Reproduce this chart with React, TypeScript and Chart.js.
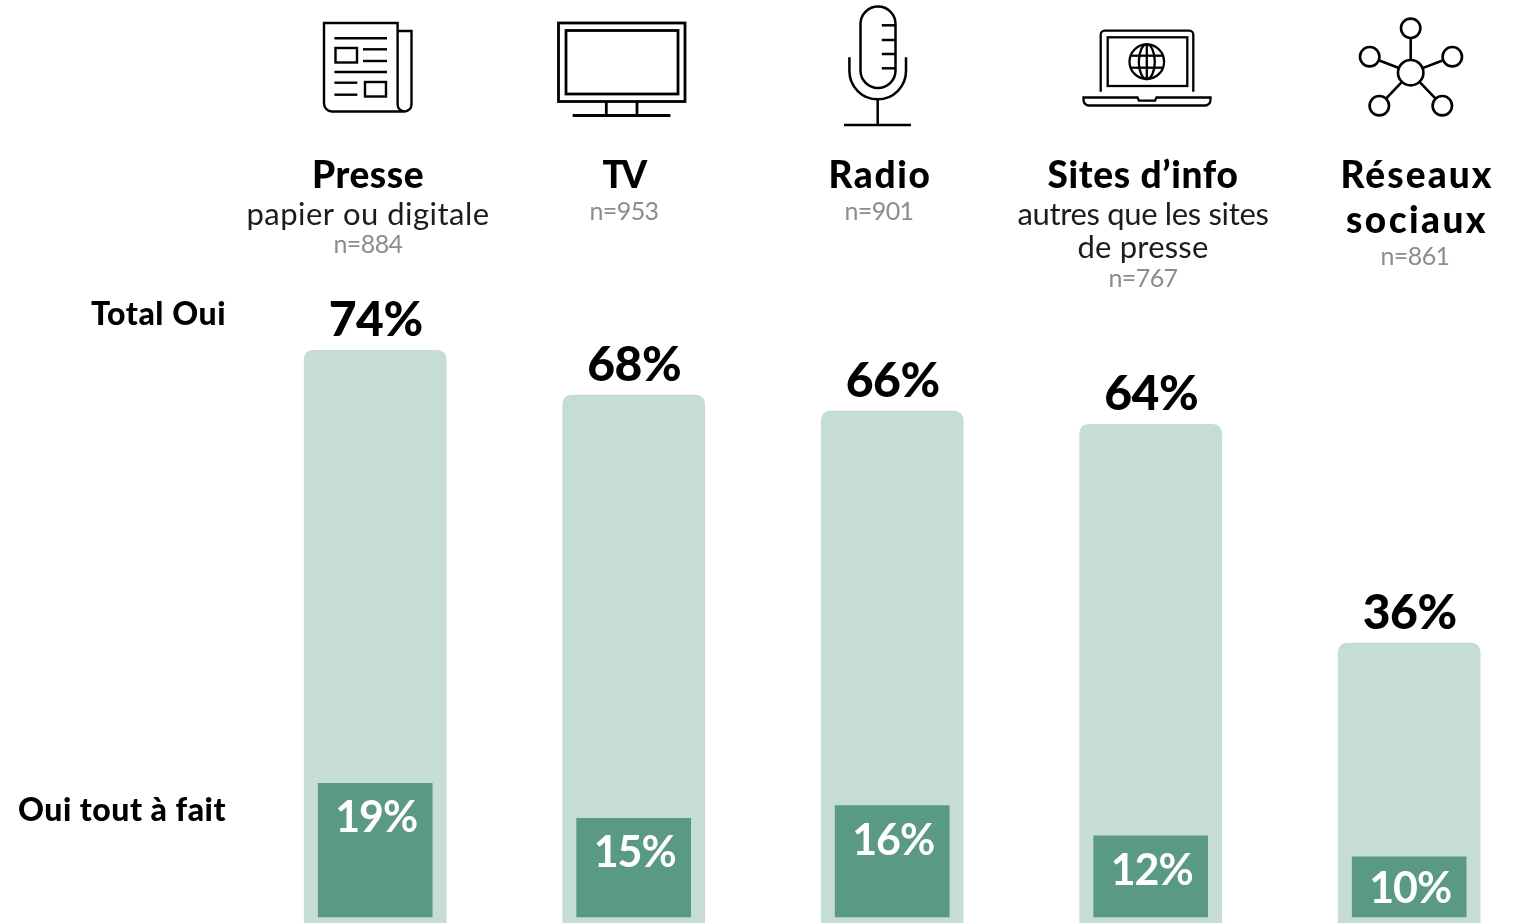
import React, { useEffect, useRef } from "react";
import { Chart, registerables } from "chart.js";

Chart.register(...registerables);

// ---- data ----
const categories = ["Presse", "TV", "Radio", "Sites d’info", "Réseaux sociaux"];
const titleLines = [["Presse"], ["TV"], ["Radio"], ["Sites d’info"], ["Réseaux", "sociaux"]];
const subtitleLines = [["papier ou digitale"], [], [], ["autres que les sites", "de presse"], []];
const sampleLabels = ["n=884", "n=953", "n=901", "n=767", "n=861"];
const totalLabels = ["74%", "68%", "66%", "64%", "36%"];
const fullyLabels = ["19%", "15%", "16%", "12%", "10%"];
// bar lengths
const totalBars = [74, 68.2, 66.1, 64.4, 36];
const fullyBars = [19.1, 14.1, 15.9, 11.6, 8.6];
const rowLabels = ["Total Oui", "Oui tout à fait"];

const FONT = "Lato, 'Open Sans', sans-serif";
const LIGHT = "#c5ddd5";
const DARK = "#5a9a82";

function text(ctx: CanvasRenderingContext2D, s: string, x: number, y: number, font: string, color: string, width: number, align: CanvasTextAlign = "center") {
  ctx.save();
  ctx.font = font;
  ctx.fillStyle = color;
  ctx.textAlign = align;
  ctx.textBaseline = "alphabetic";
  const natural = ctx.measureText(s).width;
  (ctx as any).letterSpacing = ((width - natural) / s.length).toFixed(3) + "px";
  ctx.fillText(s, x, y);
  ctx.restore();
}

function line(ctx: CanvasRenderingContext2D, x1: number, y1: number, x2: number, y2: number) {
  ctx.beginPath();
  ctx.moveTo(x1, y1);
  ctx.lineTo(x2, y2);
  ctx.stroke();
}

function drawNewspaper(ctx: CanvasRenderingContext2D) {
  ctx.lineWidth = 2.4;
  ctx.beginPath();
  ctx.moveTo(397.6, 102);
  ctx.lineTo(397.6, 23);
  ctx.lineTo(324, 23);
  ctx.lineTo(324, 103);
  ctx.arcTo(324, 111.5, 332, 111.5, 8);
  ctx.lineTo(404, 111.5);
  ctx.arcTo(411.5, 111.5, 411.5, 104, 7);
  ctx.lineTo(411.5, 31);
  ctx.lineTo(397.6, 31);
  ctx.moveTo(397.6, 102);
  ctx.arcTo(397.6, 111.5, 405, 111.5, 7);
  ctx.stroke();
  line(ctx, 334.4, 38.3, 387, 38.3);
  ctx.strokeRect(335.5, 48, 21.5, 14.5);
  line(ctx, 363, 49.3, 387, 49.3);
  line(ctx, 363, 61, 387, 61);
  line(ctx, 334.4, 72, 387, 72);
  line(ctx, 334.4, 82.7, 357.3, 82.7);
  line(ctx, 334.4, 94.7, 357.3, 94.7);
  ctx.strokeRect(365, 82, 21, 14.5);
}

function drawTv(ctx: CanvasRenderingContext2D) {
  ctx.lineWidth = 2.8;
  ctx.strokeRect(558.5, 23, 126.5, 78.5);
  ctx.strokeRect(566, 30.5, 112, 63.5);
  line(ctx, 606.3, 101.5, 606.3, 115);
  line(ctx, 637, 101.5, 637, 115);
  line(ctx, 572.7, 115.5, 670.4, 115.5);
}

function drawMic(ctx: CanvasRenderingContext2D) {
  ctx.lineWidth = 2.5;
  ctx.beginPath();
  ctx.roundRect(860.5, 6.5, 35, 81.5, 17.5);
  ctx.stroke();
  for (const y of [25.3, 40, 54, 68.3]) line(ctx, 881.8, y, 895, y);
  ctx.beginPath();
  ctx.moveTo(849.4, 57.3);
  ctx.lineTo(849.4, 71);
  ctx.arc(877.7, 71, 28.3, Math.PI, 0, true);
  ctx.lineTo(906, 57.3);
  ctx.stroke();
  line(ctx, 877.7, 99.3, 877.7, 125);
  line(ctx, 844, 125, 911, 125);
}

function drawLaptop(ctx: CanvasRenderingContext2D) {
  ctx.lineWidth = 2.3;
  ctx.beginPath();
  ctx.moveTo(1100.7, 91.7);
  ctx.lineTo(1100.7, 35);
  ctx.arcTo(1100.7, 30.7, 1105, 30.7, 4);
  ctx.lineTo(1189, 30.7);
  ctx.arcTo(1193.3, 30.7, 1193.3, 35, 4);
  ctx.lineTo(1193.3, 91.7);
  ctx.stroke();
  ctx.strokeRect(1107.7, 37.3, 79.6, 48.7);
  const cx = 1146.8, cy = 61.7, r = 17.3;
  ctx.beginPath();
  ctx.arc(cx, cy, r, 0, Math.PI * 2);
  ctx.stroke();
  ctx.beginPath();
  ctx.ellipse(cx, cy, 8, r, 0, 0, Math.PI * 2);
  ctx.stroke();
  line(ctx, cx, cy - r, cx, cy + r);
  line(ctx, cx - r + 1.5, cy - 6, cx + r - 1.5, cy - 6);
  line(ctx, cx - r + 1.5, cy + 6, cx + r - 1.5, cy + 6);
  ctx.beginPath();
  ctx.moveTo(1083.5, 97.5);
  ctx.lineTo(1137.5, 97.5);
  ctx.lineTo(1139, 100.7);
  ctx.lineTo(1155, 100.7);
  ctx.lineTo(1156.5, 97.5);
  ctx.lineTo(1210.5, 97.5);
  ctx.lineTo(1210.5, 100);
  ctx.arcTo(1210.5, 105.5, 1204, 105.5, 5.5);
  ctx.lineTo(1090, 105.5);
  ctx.arcTo(1083.5, 105.5, 1083.5, 100, 5.5);
  ctx.closePath();
  ctx.stroke();
}

function drawNetwork(ctx: CanvasRenderingContext2D) {
  ctx.lineWidth = 2.6;
  const cx = 1410.7, cy = 72.7, R = 12.7, r = 9.7;
  const nodes = [[1410.7, 28.3], [1369.7, 56.7], [1452.3, 56.7], [1379.3, 105.7], [1442.3, 105.7]];
  ctx.beginPath();
  ctx.arc(cx, cy, R, 0, Math.PI * 2);
  ctx.stroke();
  for (const [x, y] of nodes) {
    ctx.beginPath();
    ctx.arc(x, y, r, 0, Math.PI * 2);
    ctx.stroke();
    const d = Math.hypot(x - cx, y - cy);
    const ux = (x - cx) / d, uy = (y - cy) / d;
    line(ctx, cx + ux * R, cy + uy * R, x - ux * r, y - uy * r);
  }
}

const overlay = {
  id: "overlay",
  afterDatasetsDraw(chart: any) {
    const ctx: CanvasRenderingContext2D = chart.ctx;
    const total = chart.getDatasetMeta(1).data;
    const fully = chart.getDatasetMeta(0).data;
    ctx.save();
    ctx.strokeStyle = "#000";
    ctx.lineCap = "butt";
    drawNewspaper(ctx);
    drawTv(ctx);
    drawMic(ctx);
    drawLaptop(ctx);
    drawNetwork(ctx);
    ctx.restore();

    const heavy = (n: number) => `900 ${n}px ${FONT}`;
    const reg = (n: number) => `400 ${n}px ${FONT}`;
    const titleX = [368, 623, 880, 1143, 1417];
    const titleW = [[112], [41], [103], [191], [153, 142]];
    const subW = [[243], [], [], [251, 131], []];
    const nX = [368, 624, 879, 1143, 1415];
    const nY = [253, 220, 220, 287, 265];
    const fullyOffset = [49, 49, 49, 49, 46];
    titleLines.forEach((ls, i) => {
      ls.forEach((s, j) => text(ctx, s, titleX[i], 188 + j * 45, heavy(37), "#000", titleW[i][j]));
      subtitleLines[i].forEach((s, j) => text(ctx, s, titleX[i], 225 + j * 33, reg(31), "#1c1c1c", subW[i][j]));
      text(ctx, sampleLabels[i], nX[i], nY[i], reg(25), "#8c8c8c", 69);
    });
    total.forEach((bar: any, i: number) => {
      text(ctx, totalLabels[i], bar.x + 0.5, bar.y - 14, heavy(48), "#000", 94);
      text(ctx, fullyLabels[i], bar.x + 1, fully[i].y + fullyOffset[i], `700 43px ${FONT}`, "#fff", 82);
    });
    text(ctx, rowLabels[0], 226, 325, heavy(32), "#000", 135, "right");
    text(ctx, rowLabels[1], 226, 821, heavy(32), "#000", 208, "right");
  },
};

export default function App() {
  const ref = useRef<HTMLCanvasElement>(null);
  useEffect(() => {
    document.body.style.margin = "0";
    document.body.style.overflow = "hidden";
    const yMin = -0.3;
    const chart = new Chart(ref.current!, {
      type: "bar",
      data: {
        labels: categories,
        datasets: [
          {
            label: "Oui tout à fait",
            data: fullyBars,
            backgroundColor: DARK,
            barThickness: 114,
            yAxisID: "yFully",
            order: 0,
            clip: false,
          },
          {
            label: "Total Oui",
            data: totalBars,
            backgroundColor: LIGHT,
            barThickness: 142,
            borderRadius: { topLeft: 9, topRight: 9 },
            borderSkipped: false,
            base: yMin,
            yAxisID: "y",
            order: 1,
            clip: false,
          },
        ],
      } as any,
      options: {
        responsive: false,
        animation: false,
        events: [],
        layout: { padding: { left: 375.2, right: 109.8, top: 304, bottom: 0 } },
        plugins: { legend: { display: false }, tooltip: { enabled: false }, title: { display: false } },
        scales: {
          x: { display: false, offset: false, grid: { display: false }, stacked: false },
          y: { display: false, min: yMin, max: 80, grid: { display: false } },
          yFully: { display: false, min: -0.857, max: 87.57, grid: { display: false } },
        },
        datasets: { bar: { grouped: false } },
      } as any,
      plugins: [overlay],
    });
    return () => chart.destroy();
  }, []);
  return <canvas ref={ref} width={1519} height={923} style={{ display: "block", width: 1519, height: 923 }} />;
}
